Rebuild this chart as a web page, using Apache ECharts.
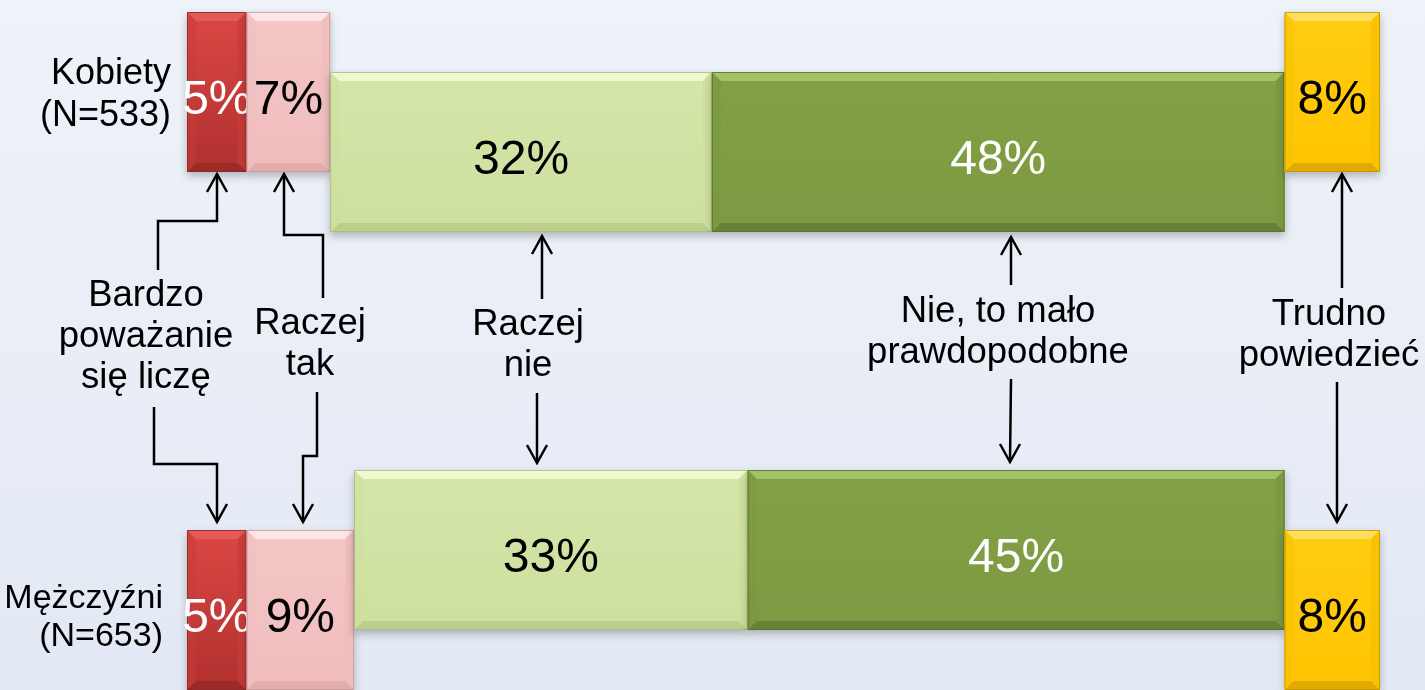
<!DOCTYPE html>
<html>
<head>
<meta charset="utf-8">
<script src="https://cdn.jsdelivr.net/npm/echarts@6/dist/echarts.min.js"></script>
<style>
  html, body { margin: 0; padding: 0; }
  body { background: linear-gradient(#eef2f9, #e3e9f4); }
  #chart { width: 1425px; height: 690px; }
</style>
</head>
<body>
<div id="chart"></div>
<script>
// rows of the chart (top to bottom)
const groups = ['Kobiety\n(N=533)', 'Mężczyźni\n(N=653)']
// answers, in stacking order
const answers = ['Bardzo poważanie się liczę', 'Raczej tak', 'Raczej nie', 'Nie, to mało prawdopodobne', 'Trudno powiedzieć']
const kobiety = [5, 7, 32, 48, 8]
const mezczyzni = [5, 9, 33, 45, 8]
const rowValues = [kobiety, mezczyzni]

// look of each answer segment
const tones = [
  { main: ['#dc4744', '#b0302e'], top: '#e35b57', bottom: '#9c2a28', side: '#c53c39', border: '#8c2725', text: '#ffffff', tall: true },
  { main: ['#f4c7c7', '#f0bcbc'], top: '#fce6e6', bottom: '#e3adad', side: '#efbdbd', border: '#c89999', text: '#000000', tall: true },
  { main: ['#d4e6a9', '#cde09f'], top: '#eff8cf', bottom: '#bccf8d', side: '#cde09f', border: '#a6b97a', text: '#000000', tall: false },
  { main: ['#83a046', '#7d9a42'], top: '#a3c265', bottom: '#678236', side: '#7a973f', border: '#58702c', text: '#ffffff', tall: false },
  { main: ['#ffcd12', '#ffc400'], top: '#ffde5c', bottom: '#e2aa00', side: '#f8c000', border: '#bf9200', text: '#000000', tall: true },
]

// annotation labels with their arrows (pixel layout)
const notes = [
  { text: 'Bardzo\npoważanie\nsię liczę', x: 146, y: 337,
    up: [[158, 270], [158, 221], [217, 221], [217, 174]], down: [[154, 407], [154, 464], [217, 464], [217, 522]] },
  { text: 'Raczej\ntak', x: 310, y: 344,
    up: [[323, 298], [323, 235], [284, 235], [284, 174]], down: [[317, 392], [317, 456], [303, 456], [303, 522]] },
  { text: 'Raczej\nnie', x: 528, y: 345,
    up: [[542, 299], [542, 236]], down: [[537, 393], [537, 463]] },
  { text: 'Nie, to mało\nprawdopodobne', x: 998, y: 332,
    up: [[1011, 285], [1011, 237]], down: [[1011, 379], [1010, 462]] },
  { text: 'Trudno\npowiedzieć', x: 1329, y: 335,
    up: [[1342, 288], [1342, 174]], down: [[1337, 382], [1337, 522]] },
]

const FONT = '"Liberation Sans", Arial, sans-serif'
const BAR_H = 160
const SHIFT = 30
const BEVEL = 9
const rowLabel = [
  { dx: -16, dy: 3, size: 36, lineHeight: 42 },
  { dx: -24, dy: 8, size: 34, lineHeight: 38 },
]

const seriesData = answers.map((name, i) => rowValues.map((vals, row) => {
  const start = vals.slice(0, i).reduce((a, b) => a + b, 0)
  return [start, start + vals[i], row, vals[i]]
}))

const renderSegment = (params, api) => {
  const tone = tones[params.seriesIndex]
  const row = api.value(2)
  const p0 = api.coord([api.value(0), row])
  const p1 = api.coord([api.value(1), row])
  const dir = (row === 0 ? -1 : 1) * (tone.tall ? 1 : -1)
  const cy = p0[1] + dir * SHIFT
  const x = p0[0], w = p1[0] - p0[0], y = cy - BAR_H / 2, h = BAR_H, b = BEVEL
  const children = [
    {
      type: 'rect', shape: { x, y, width: w, height: h },
      style: {
        fill: new echarts.graphic.LinearGradient(0, 0, 0, 1, [
          { offset: 0, color: tone.main[0] }, { offset: 1, color: tone.main[1] },
        ]),
        shadowBlur: 8, shadowOffsetY: 4, shadowColor: 'rgba(0,0,0,0.25)',
      },
    },
    { type: 'polygon', shape: { points: [[x, y], [x + w, y], [x + w - b, y + b], [x + b, y + b]] }, style: { fill: tone.top } },
    { type: 'polygon', shape: { points: [[x, y + h], [x + w, y + h], [x + w - b, y + h - b], [x + b, y + h - b]] }, style: { fill: tone.bottom } },
    { type: 'polygon', shape: { points: [[x, y], [x + b, y + b], [x + b, y + h - b], [x, y + h]] }, style: { fill: tone.side, opacity: 0.5 } },
    { type: 'polygon', shape: { points: [[x + w, y], [x + w - b, y + b], [x + w - b, y + h - b], [x + w, y + h]] }, style: { fill: tone.side, opacity: 0.8 } },
    { type: 'rect', shape: { x: x + 0.5, y: y + 0.5, width: w - 1, height: h - 1 }, style: { fill: 'none', stroke: tone.border, lineWidth: 1, opacity: 0.8 } },
    {
      type: 'text',
      style: {
        text: api.value(3) + '%', x: x + w / 2, y: cy + 9,
        fill: tone.text, font: '48px ' + FONT, align: 'center', verticalAlign: 'middle',
      },
    },
  ]
  if (params.seriesIndex === 0) {
    const lab = rowLabel[row]
    children.push({
      type: 'text',
      style: {
        text: groups[row], x: x + lab.dx, y: cy + lab.dy,
        fill: '#000', font: lab.size + 'px ' + FONT, lineHeight: lab.lineHeight,
        align: 'right', verticalAlign: 'middle',
      },
    })
  }
  return { type: 'group', children }
}

const arrowHead = (pts) => {
  const [tx, ty] = pts[pts.length - 1]
  const py = pts[pts.length - 2][1]
  const s = ty < py ? 1 : -1
  return [[tx - 10, ty + s * 18], [tx, ty], [tx + 10, ty + s * 18]]
}

const lineStyle = { stroke: '#000', lineWidth: 2.5, fill: 'none' }
const graphics = []
notes.forEach(n => {
  graphics.push({
    type: 'text', x: n.x, y: n.y,
    style: { text: n.text, font: '36.5px ' + FONT, lineHeight: 41, fill: '#000', align: 'center', verticalAlign: 'middle' },
  })
  ;[n.up, n.down].forEach(path => {
    graphics.push({ type: 'polyline', shape: { points: path }, style: lineStyle })
    graphics.push({ type: 'polyline', shape: { points: arrowHead(path) }, style: lineStyle })
  })
})

const chart = echarts.init(document.getElementById('chart'))
chart.setOption({
  backgroundColor: 'transparent',
  animation: false,
  grid: { left: 187, right: 45, top: 122, bottom: 110 },
  xAxis: { type: 'value', min: 0, max: 100, show: false },
  yAxis: { type: 'category', data: groups, inverse: true, boundaryGap: false, show: false },
  series: answers.map((name, i) => ({
    name,
    type: 'custom',
    clip: false,
    renderItem: renderSegment,
    encode: { x: [0, 1], y: 2 },
    data: seriesData[i],
    z: 2,
  })),
  graphic: graphics,
})
</script>
</body>
</html>
